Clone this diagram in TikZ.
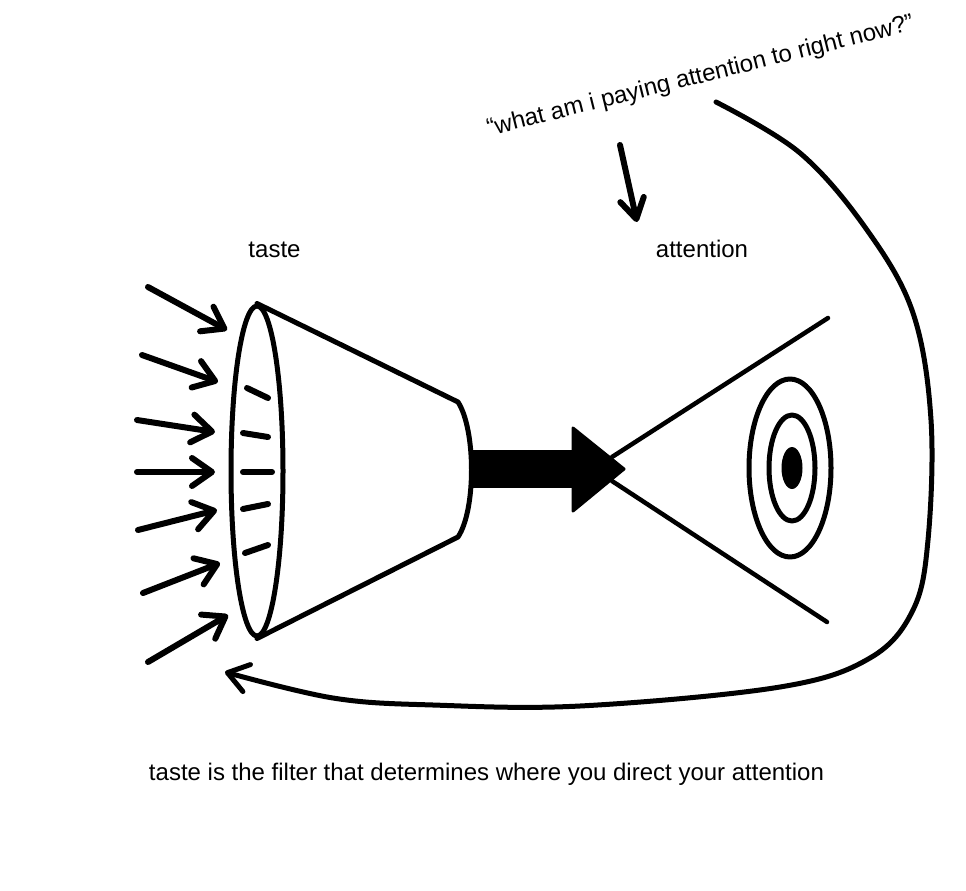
\documentclass[tikz,border=0pt]{standalone}
\usepackage{fontspec}
\setmainfont{Liberation Sans}
\usetikzlibrary{arrows.meta,shapes.geometric}

\tikzset{
  lbl/.style={font=\fontsize{24pt}{28pt}\selectfont, inner sep=0pt},
  inarrow/.style={line width=6pt, line cap=round, line join=round,
    -{Straight Barb[length=20pt, width=28pt, line cap=round, line join=round]}},
  stroke/.style={line width=5pt, line cap=round, line join=round},
}

\begin{document}
\begin{tikzpicture}[x=1pt, y=-1pt]
\useasboundingbox (0,0) rectangle (966,891);

% Filter (rim and cone)
\node [draw, stroke, ellipse, minimum width=52pt, minimum height=330pt, inner sep=0pt] (filter) at (257,471) {};
\draw [stroke] (filter.north) -- (458,402) .. controls (476,430) and (476,510) .. (458,537) -- (filter.south);

% Slots in the filter
\foreach \ax/\ay/\bx/\by in {247/388/268/398, 243/433/268/437, 243/472/272/472, 243/509/268/504, 245/553/268/545}
  \draw [line width=6pt, line cap=round] (\ax,\ay) -- (\bx,\by);

% Incoming arrows
\foreach \sx/\sy/\tx/\ty in {148/287/227/330, 142/355/218/382, 137/420/215/432, 137/472/215/472, 138/530/217/510, 143/593/220/563, 148/662/228/615}
  \draw [inarrow] (\sx,\sy) -- (\tx,\ty);

% Thick arrow
\fill [black] (470,450) rectangle (574,488);
\filldraw [black, line width=3pt, line join=round] (573,428) -- (624,469) -- (573,511) -- cycle;

% Field of view
\coordinate (eye) at (612,469);
\draw [line width=4.5pt, line cap=round] (612,457) -- (828,318);
\draw [line width=4.5pt, line cap=round] (612,481) -- (827,622);

% Target
\node [draw, stroke, ellipse, minimum width=82pt, minimum height=178pt, inner sep=0pt] (outerring) at (790,468) {};
\node [draw, stroke, ellipse, minimum width=46pt, minimum height=106pt, inner sep=0pt] (innerring) at (792,468) {};
\node [fill=black, ellipse, minimum width=21pt, minimum height=42pt, inner sep=0pt] (bullseye) at (792,468) {};

% Labels
\node [lbl, anchor=base] (taste) at (274.5,257) {taste};
\node [lbl, anchor=base] (attention) at (702,257) {attention};
\node [lbl, anchor=base west, rotate=14] (question) at (489,136) {“what am i paying attention to right now?”};
\node [lbl, anchor=base] (caption) at (486.5,780) {taste is the filter that determines where you direct your attention};

% Question points to attention
\coordinate (qstart) at (620,145);
\coordinate (qend) at (637,222);
\draw [inarrow, -{Straight Barb[length=20pt, width=24pt, line cap=round, line join=round]}] (qstart) -- (qend);

% Feedback loop
\coordinate (loopstart) at (716,102);
\coordinate (loopend) at (225,672);
\draw [stroke, -{Straight Barb[length=20pt, width=28pt, line cap=round, line join=round]}]
  plot [smooth, tension=0.6] coordinates {(loopstart) (800,153) (867,230) (913,313) (931,420) (928,540) (913,610) (870,658) (780,687) (580,706) (433,705) (333,698) (loopend)};
\end{tikzpicture}
\end{document}
